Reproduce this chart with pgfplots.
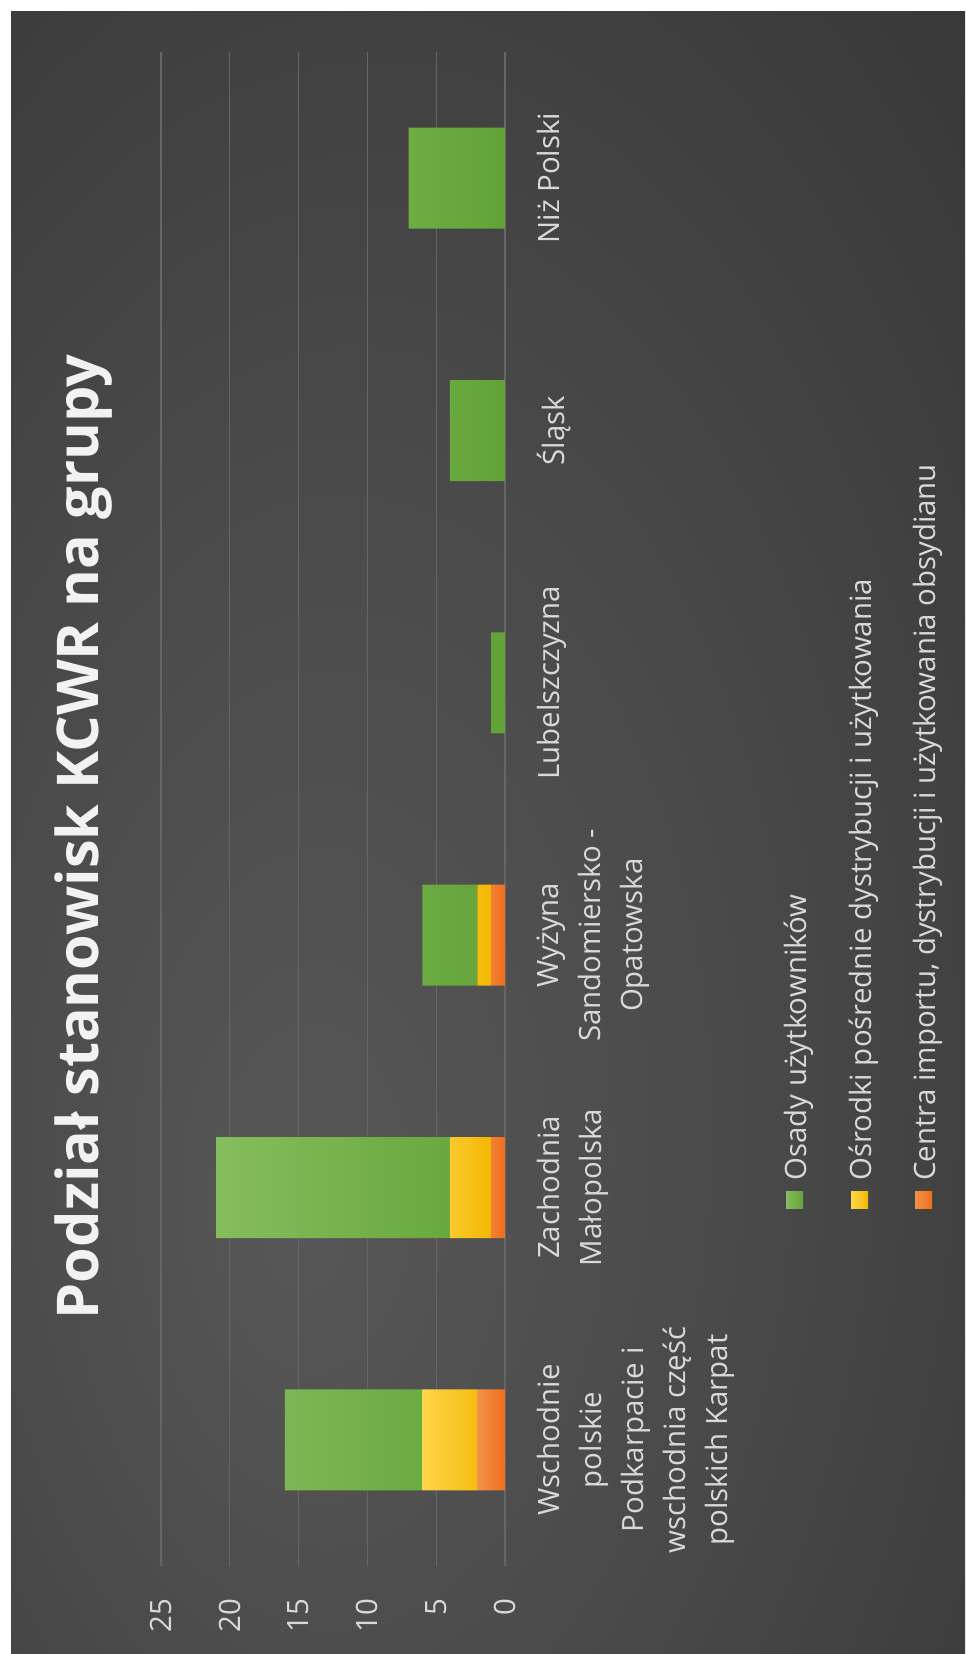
\documentclass[border=0pt]{standalone}
\usepackage{pgfplots}
\pgfplotsset{compat=1.18}
\usepackage{fontspec}
\setmainfont{Open Sans}
\definecolor{bgin}{HTML}{575757}
\definecolor{bgmid}{HTML}{4A4A4A}
\definecolor{bgout}{HTML}{363636}
\definecolor{bgcorner}{HTML}{262626}
\definecolor{gridc}{HTML}{666666}
\definecolor{axisc}{HTML}{BFBFBF}
\definecolor{tickc}{HTML}{D9D9D9}
\definecolor{titlec}{HTML}{F2F2F2}
\definecolor{greenL}{HTML}{86BD5E}
\definecolor{greenR}{HTML}{62A337}
\definecolor{yellowL}{HTML}{FFD54A}
\definecolor{yellowR}{HTML}{F2B700}
\definecolor{orangeL}{HTML}{F3914A}
\definecolor{orangeR}{HTML}{EF6F1B}
\pgfdeclareradialshading{bgshade}{\pgfpoint{-10bp}{-12bp}}{color(0bp)=(bgin); color(20bp)=(bgmid); color(45bp)=(bgout); color(75bp)=(bgcorner)}
\begin{document}
\begin{tikzpicture}
\useasboundingbox (0pt,0pt) rectangle (482.5pt,-827pt);
\fill[white] (0pt,0pt) rectangle (482.5pt,-827pt);
\shade[shading=bgshade] (5.5pt,-5.5pt) rectangle (482.5pt,-827pt);
\node[rotate=90, anchor=base, inner sep=0pt, text=titlec,
      font=\fontsize{28.8}{34}\selectfont\bfseries] at (49pt,-418.5pt)
      {Podział stanowisk KCWR na grupy};
\begin{axis}[
  at={(166.5pt,-404.5pt)}, anchor=center,
  scale only axis, width=172pt, height=757pt,
  xbar stacked, bar width=50.5pt,
  x dir=reverse,
  xmin=0, xmax=25, ymin=-0.5, ymax=5.5,
  xtick={0,5,10,15,20,25},
  ytick={0,1,2,3,4,5},
  yticklabels={{Wschodnie\\polskie\\Podkarpacie i\\wschodnia część\\polskich Karpat},
               {Zachodnia\\Małopolska},
               {Wyżyna\\Sandomiersko -\\Opatowska},
               {Lubelszczyzna},{Śląsk},{Niż Polski}},
  xmajorgrids, major grid style={color=gridc, line width=0.6pt},
  extra x ticks={0}, extra x tick labels={},
  extra x tick style={grid style={color=axisc, line width=1.4pt}},
  axis line style={draw=none}, tick style={draw=none},
  /pgf/number format/assume math mode=true,
  xticklabel style={rotate=90, anchor=east, inner sep=0pt, text=tickc,
                    font=\fontsize{14.7}{21}\selectfont},
  xticklabel shift=16pt,
  yticklabel pos=right,
  yticklabel style={rotate=90, anchor=north, align=center, inner sep=0pt, text=tickc,
                    font=\fontsize{14.7}{21}\selectfont},
  yticklabel shift=16pt,
]
\addplot[left color=orangeL, right color=orangeR, draw=none] coordinates {(2,0) (1,1) (1,2) (0,3) (0,4) (0,5)};
\addplot[left color=yellowL, right color=yellowR, draw=none] coordinates {(4,0) (3,1) (1,2) (0,3) (0,4) (0,5)};
\addplot[left color=greenL, right color=greenR, draw=none] coordinates {(10,0) (17,1) (4,2) (1,3) (4,4) (7,5)};
\end{axis}
% legend (rotated, as in the reference)
\begin{scope}[every node/.style={rotate=90, anchor=base west, inner sep=0pt, text=tickc,
      font=\fontsize{14.7}{21}\selectfont}]
\fill[left color=greenL, right color=greenR] (393pt,-595.5pt) rectangle (401.5pt,-604pt);
\node at (403pt,-590.5pt) {Osady użytkowników};
\fill[left color=yellowL, right color=yellowR] (425.5pt,-595.5pt) rectangle (434pt,-604pt);
\node at (435.5pt,-590.5pt) {Ośrodki pośrednie dystrybucji i użytkowania};
\fill[left color=orangeL, right color=orangeR] (457.5pt,-595.5pt) rectangle (466pt,-604pt);
\node at (467.5pt,-590.5pt) {Centra importu, dystrybucji i użytkowania obsydianu};
\end{scope}
\end{tikzpicture}
\end{document}
